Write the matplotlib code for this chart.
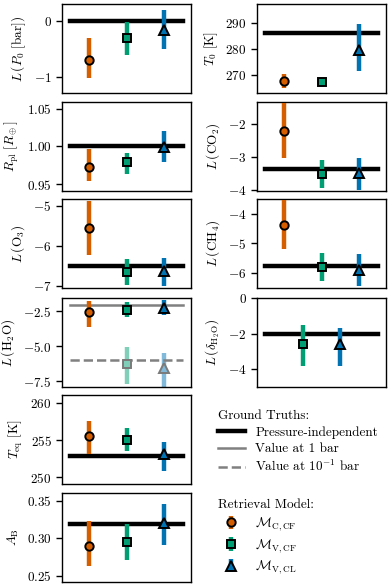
import numpy as np
import matplotlib
matplotlib.use('Agg')
import matplotlib.pyplot as plt
from matplotlib.lines import Line2D
from matplotlib.colors import to_rgb

plt.rcParams['font.family'] = 'serif'
plt.rcParams['font.serif'] = ['cmr10']
plt.rcParams['mathtext.fontset'] = 'cm'
plt.rcParams['axes.formatter.use_mathtext'] = True
plt.rcParams['font.size'] = 9.5

# model colours / markers
models = [r'$\mathcal{M}_\mathrm{C,CF}$', r'$\mathcal{M}_\mathrm{V,CF}$', r'$\mathcal{M}_\mathrm{V,CL}$']
colors = ['#d55e00', '#029e73', '#0173b2']
markers = ['o', 's', '^']

# retrieved values per parameter: median, lower, upper (one entry per model)
p0_med = [-0.70, -0.30, -0.17]
p0_lo = [-1.02, -0.62, -0.50]
p0_hi = [-0.30, -0.02, 0.20]

t0_med = [267.7, 267.2, 279.8]
t0_lo = [265.2, 265.3, 271.7]
t0_hi = [270.4, 268.8, 289.5]

rpl_med = [0.9725, 0.979, 0.999]
rpl_lo = [0.954, 0.963, 0.980]
rpl_hi = [0.997, 0.992, 1.021]

co2_med = [-2.21, -3.51, -3.47]
co2_lo = [-3.03, -3.92, -3.98]
co2_hi = [-1.36, -3.09, -3.03]

o3_med = [-5.56, -6.66, -6.62]
o3_lo = [-6.22, -6.97, -7.00]
o3_hi = [-4.88, -6.33, -6.30]

ch4_med = [-4.37, -5.78, -5.88]
ch4_lo = [-5.18, -6.26, -6.42]
ch4_hi = [-3.52, -5.31, -5.37]

h2o_med = [-2.57, -2.43, -2.30]
h2o_lo = [-3.60, -2.90, -2.79]
h2o_hi = [-1.78, -1.83, -1.70]
# second H2O layer (value at 0.1 bar), only for the V models
h2o_up_med = [-6.28, -6.55]
h2o_up_lo = [-7.70, -7.95]
h2o_up_hi = [-5.07, -5.48]

dh2o_med = [-2.56, -2.60]
dh2o_lo = [-3.81, -3.81]
dh2o_hi = [-1.53, -1.66]

teq_med = [255.6, 255.0, 253.1]
teq_lo = [253.1, 253.5, 250.8]
teq_hi = [257.6, 256.6, 254.8]

ab_med = [0.2897, 0.2955, 0.320]
ab_lo = [0.263, 0.271, 0.291]
ab_hi = [0.3234, 0.319, 0.346]

# ground truths
truth_p0 = 0.0
truth_t0 = 286.2
truth_rpl = 1.0
truth_co2 = -3.37
truth_o3 = -6.50
truth_ch4 = -5.77
truth_h2o_1bar = -2.09
truth_h2o_01bar = -5.96
truth_dh2o = -2.0
truth_teq = 252.85
truth_ab = 0.319

W, H = 391, 587
fig = plt.figure(figsize=(W / 100, H / 100), dpi=100)

left_x, right_x, ax_w, ax_h = 62, 257, 129, 89
row_tops = [4, 102, 199, 298, 395, 493]


def lighten(c, f=0.5):
    r = np.array(to_rgb(c))
    return tuple(r * f + (1 - f))


def make_ax(x, top):
    ax = fig.add_axes([x / W, 1 - (top + ax_h) / H, ax_w / W, ax_h / H])
    ax.set_xlim(-0.7, 2.7)
    ax.set_xticks([])
    for s in ax.spines.values():
        s.set_linewidth(1.0)
    ax.tick_params(axis='y', length=4, width=1.0)
    return ax


def draw(ax, med, lo, hi, idx=(0, 1, 2), xs=None, light=False):
    handles = []
    if xs is None:
        xs = list(idx)
    for x, i, m, l, h in zip(xs, idx, med, lo, hi):
        c = colors[i]
        ms = 7 if markers[i] == '^' else 6
        if light:
            lc = lighten(c)
            ax.vlines(x, l, h, color=lc, lw=3.2, zorder=1)
            ax.plot(x, m, markers[i], mfc=lc, mec='#7a7a7a', mew=1.4, ms=ms, zorder=3)
            continue
        eb = ax.errorbar([x], [m], yerr=[[m - l], [h - m]], fmt=markers[i], ecolor=c,
                         elinewidth=3.2, capsize=0, mfc=c, mec='k', mew=1.4, ms=ms, zorder=3)
        handles.append(eb)
    return handles


def truth(ax, y, **kw):
    style = dict(color='k', lw=3.2, zorder=2)
    style.update(kw)
    ax.plot([-0.5, 2.5], [y, y], **style)


# left column
ax = make_ax(left_x, row_tops[0])
truth(ax, truth_p0)
draw(ax, p0_med, p0_lo, p0_hi)
ax.set_ylim(-1.29, 0.30)
ax.set_yticks([-1, 0])
ax.set_ylabel(r'$L\,(P_0\ [\mathrm{bar}])$')

ax = make_ax(left_x, row_tops[1])
truth(ax, truth_rpl)
draw(ax, rpl_med, rpl_lo, rpl_hi)
ax.set_ylim(0.941, 1.059)
ax.set_yticks([0.95, 1.00, 1.05])
ax.set_ylabel(r'$R_\mathrm{pl}\ [R_\oplus]$')

ax = make_ax(left_x, row_tops[2])
truth(ax, truth_o3)
draw(ax, o3_med, o3_lo, o3_hi)
ax.set_ylim(-7.05, -4.83)
ax.set_yticks([-7, -6, -5])
ax.set_ylabel(r'$L\,(\mathrm{O_3})$')

ax = make_ax(left_x, row_tops[3])
truth(ax, truth_h2o_1bar, color='#808080', lw=1.8)
truth(ax, truth_h2o_01bar, color='#808080', lw=1.8, ls='--')
draw(ax, h2o_med, h2o_lo, h2o_hi)
draw(ax, h2o_up_med, h2o_up_lo, h2o_up_hi, idx=(1, 2), light=True)
ax.set_ylim(-7.91, -1.56)
ax.set_yticks([-7.5, -5.0, -2.5])
ax.set_ylabel(r'$L\,(\mathrm{H_2O})$')

ax = make_ax(left_x, row_tops[4])
truth(ax, truth_teq)
draw(ax, teq_med, teq_lo, teq_hi)
ax.set_ylim(249.1, 261.1)
ax.set_yticks([250, 255, 260])
ax.set_ylabel(r'$T_\mathrm{eq}\ [\mathrm{K}]$')

ax = make_ax(left_x, row_tops[5])
truth(ax, truth_ab)
model_handles = draw(ax, ab_med, ab_lo, ab_hi)
ax.set_ylim(0.2415, 0.3607)
ax.set_yticks([0.25, 0.30, 0.35])
ax.set_ylabel(r'$A_\mathrm{B}$')

# right column
ax = make_ax(right_x, row_tops[0])
truth(ax, truth_t0)
draw(ax, t0_med, t0_lo, t0_hi)
ax.set_ylim(263.1, 297.3)
ax.set_yticks([270, 280, 290])
ax.set_ylabel(r'$T_0\ [\mathrm{K}]$')

ax = make_ax(right_x, row_tops[1])
truth(ax, truth_co2)
draw(ax, co2_med, co2_lo, co2_hi)
ax.set_ylim(-4.02, -1.34)
ax.set_yticks([-4, -3, -2])
ax.set_ylabel(r'$L\,(\mathrm{CO_2})$')

ax = make_ax(right_x, row_tops[2])
truth(ax, truth_ch4)
draw(ax, ch4_med, ch4_lo, ch4_hi)
ax.set_ylim(-6.5, -3.5)
ax.set_yticks([-6, -5, -4])
ax.set_ylabel(r'$L\,(\mathrm{CH_4})$')

ax = make_ax(right_x, row_tops[3])
truth(ax, truth_dh2o)
draw(ax, dh2o_med, dh2o_lo, dh2o_hi, idx=(1, 2), xs=[0.5, 1.5])
ax.set_ylim(-5.0, 0.0)
ax.set_yticks([-4, -2, 0])
ax.set_ylabel(r'$L\,(\delta_\mathrm{H_2O})$')

# legends
truth_handles = [Line2D([], [], color='k', lw=3.2),
                 Line2D([], [], color='#808080', lw=1.8),
                 Line2D([], [], color='#808080', lw=1.8, ls='--')]
truth_labels = ['Pressure-independent', 'Value at 1 bar', r'Value at $10^{-1}$ bar']
fig.legend(truth_handles, truth_labels, title='Ground Truths:', loc='upper left',
           bbox_to_anchor=(213 / W, 1 - 405 / H), frameon=False, alignment='left',
           handlelength=2.0, borderaxespad=0, labelspacing=0.3)
fig.legend(model_handles, models, title='Retrieval Model:', loc='upper left',
           bbox_to_anchor=(213 / W, 1 - 494 / H), frameon=False, alignment='left',
           handlelength=2.0, borderaxespad=0, labelspacing=0.3)

fig.savefig('out.png', dpi=100)
